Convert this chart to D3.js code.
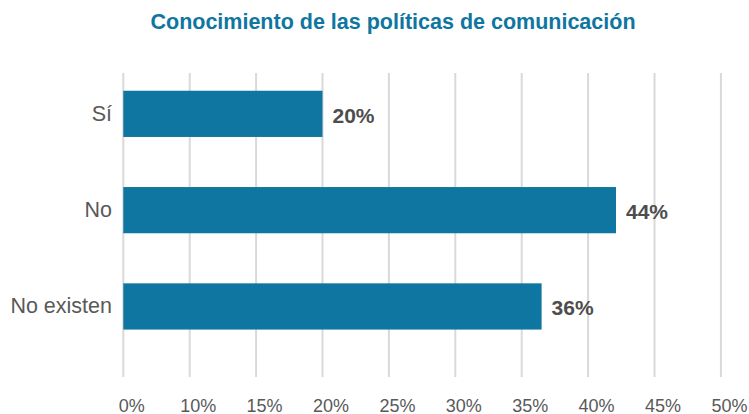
<!DOCTYPE html>
<html>
<head>
<meta charset="utf-8">
<script src="https://cdn.jsdelivr.net/npm/d3@7"></script>
<style>
  body { margin: 0; background: #fff; }
  svg { display: block; font-family: "Liberation Sans", Arial, sans-serif; }
</style>
</head>
<body>
<div id="chart"></div>
<script>
var categories = ["Sí", "No", "No existen"];
var values = [20, 42.1, 36.5];
var valueLabels = ["20%", "44%", "36%"];
var tickValues = [0, 10, 15, 20, 25, 30, 35, 40, 45, 50];
var tickLabels = ["0%", "10%", "15%", "20%", "25%", "30%", "35%", "40%", "45%", "50%"];

var width = 749;
var height = 414;
var left = 123.3, step = 66.4;
var gridTop = 73, gridBottom = 377;

var svg = d3.select("#chart")
  .append("svg")
    .attr("width", width)
    .attr("height", height);

// ticks are evenly spaced even though the first gap is 10%
var x = d3.scaleLinear()
  .domain(tickValues)
  .range(tickValues.map(function(d, i) { return left + i * step; }));

var y = d3.scaleBand()
  .domain(categories)
  .range([65.7, 354.6])
  .paddingInner(0.52)
  .paddingOuter(0.26);

svg.append("text")
  .attr("x", 393)
  .attr("y", 28.5)
  .attr("text-anchor", "middle")
  .attr("font-size", "21.5px")
  .attr("font-weight", "bold")
  .attr("fill", "#0e76a0")
  .text("Conocimiento de las políticas de comunicación");

// gridlines
svg.append("g")
  .selectAll("line")
  .data(tickValues)
  .enter()
    .append("line")
    .attr("x1", function(d) { return x(d); })
    .attr("x2", function(d) { return x(d); })
    .attr("y1", gridTop)
    .attr("y2", gridBottom)
    .attr("stroke", "#d9d9d9")
    .attr("stroke-width", 2);

var xAxis = d3.axisBottom(x)
  .tickValues(tickValues)
  .tickSize(0)
  .tickFormat(function(d, i) { return tickLabels[i]; });

var gx = svg.append("g")
  .attr("transform", "translate(8," + gridBottom + ")")
  .call(xAxis);
gx.select(".domain").remove();
gx.selectAll(".tick text")
  .attr("dy", null)
  .attr("y", 34.5)
  .attr("font-size", "18px")
  .attr("font-family", "Liberation Sans, Arial, sans-serif")
  .attr("fill", "#595959");

var yAxis = d3.axisLeft(y).tickSize(0);
var gy = svg.append("g")
  .attr("transform", "translate(112,0)")
  .call(yAxis);
gy.select(".domain").remove();
gy.selectAll(".tick text")
  .attr("x", 0)
  .attr("dy", "0.32em")
  .attr("font-size", "21.5px")
  .attr("font-family", "Liberation Sans, Arial, sans-serif")
  .attr("fill", "#595959");

svg.append("g")
  .selectAll("rect")
  .data(values)
  .enter()
    .append("rect")
    .attr("x", x(0))
    .attr("y", function(d, i) { return y(categories[i]); })
    .attr("width", function(d) { return x(d) - x(0); })
    .attr("height", y.bandwidth())
    .attr("fill", "#0e76a0");

svg.append("g")
  .selectAll("text")
  .data(values)
  .enter()
    .append("text")
    .attr("x", function(d) { return x(d) + 10; })
    .attr("y", function(d, i) { return y(categories[i]) + y.bandwidth() / 2 + 1.5; })
    .attr("dy", "0.35em")
    .attr("font-size", "21px")
    .attr("font-weight", "bold")
    .attr("fill", "#4d4d4d")
    .text(function(d, i) { return valueLabels[i]; });
</script>
</body>
</html>
